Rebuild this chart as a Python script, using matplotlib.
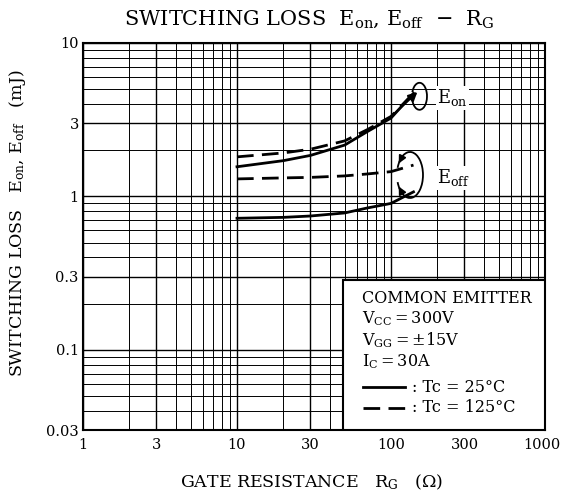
# Switching loss Eon, Eoff vs gate resistance
import matplotlib.pyplot as plt
import matplotlib.patches as mpatches
from matplotlib.ticker import FixedLocator, LogLocator, NullFormatter
from matplotlib.transforms import ScaledTranslation, offset_copy
import numpy as np

plt.rcParams['font.family'] = 'DejaVu Serif'
plt.rcParams['mathtext.fontset'] = 'dejavuserif'

# Data (mJ vs ohm)
rg = [10, 20, 30, 50, 70, 100, 140]
eon_25 = [1.56, 1.71, 1.85, 2.16, 2.64, 3.24, 4.7]
eon_125 = [1.81, 1.92, 2.03, 2.3, 2.72, 3.32, 4.7]
eoff_125 = [1.30, 1.32, 1.33, 1.36, 1.40, 1.45, 1.60]
eoff_25 = [0.72, 0.73, 0.745, 0.78, 0.84, 0.90, 1.07]

x_ticks = [1, 3, 10, 30, 100, 300, 1000]
y_ticks = [0.03, 0.1, 0.3, 1, 3, 10]
y_ticklabels = ['0.03', '0.1', '0.3', '1', '3', '10']

fig = plt.figure(figsize=(5.62, 4.97), dpi=100)
ax = fig.add_axes([0.1477, 0.1348, 0.822, 0.7787])
ax.set_xscale('log')
ax.set_yscale('log')
ax.set_xlim(1, 1000)
ax.set_ylim(0.03, 10)

# graph paper grid
ax.xaxis.set_major_locator(FixedLocator(x_ticks))
ax.yaxis.set_major_locator(FixedLocator(y_ticks))
ax.xaxis.set_minor_locator(LogLocator(base=10, subs=range(1, 10)))
ax.yaxis.set_minor_locator(LogLocator(base=10, subs=range(1, 10)))
ax.xaxis.set_minor_formatter(NullFormatter())
ax.yaxis.set_minor_formatter(NullFormatter())
ax.set_xticklabels([str(v) for v in x_ticks])
ax.set_yticklabels(y_ticklabels)
ax.grid(which='major', color='black', lw=1.0)
ax.grid(which='minor', color='black', lw=0.7)
ax.tick_params(which='both', length=0, labelsize=10.5)
ax.tick_params(axis='x', pad=6)
ax.tick_params(axis='y', pad=3)
for s in ax.spines.values():
    s.set_linewidth(1.5)
# last x label sits a bit inside the edge
lab = ax.get_xticklabels()[-1]
lab.set_transform(offset_copy(lab.get_transform(), fig=fig, x=-3, y=0, units='dots'))

ax.plot(rg, eon_25, color='black', lw=2)
ax.plot(rg, eon_125, color='black', lw=2, dashes=(6, 3))
ax.plot(rg, eoff_125, color='black', lw=2, dashes=(6, 3))
ax.plot(rg, eoff_25, color='black', lw=2)


def loop(cx, cy, dx, dy, w, h, t1, t2, heads):
    # ellipse-shaped pointer drawn in pixel units around a data point
    tr = fig.dpi_scale_trans + ScaledTranslation(cx, cy, ax.transData)
    tr = offset_copy(tr, fig=fig, x=dx, y=dy, units='dots')
    w_in, h_in = w / 100, h / 100
    ax.add_patch(mpatches.Arc((0, 0), w_in, h_in, theta1=t1, theta2=t2,
                              transform=tr, color='black', lw=1.3))
    for t, sgn in heads:
        a = np.radians(t)
        b = np.radians(t - sgn * 25)
        tip = (w_in / 2 * np.cos(a), h_in / 2 * np.sin(a))
        tail = (w_in / 2 * np.cos(b), h_in / 2 * np.sin(b))
        ax.annotate('', xy=tip, xycoords=tr, xytext=tail, textcoords=tr,
                    arrowprops=dict(arrowstyle='-|>', color='black', lw=1.3,
                                    mutation_scale=11, shrinkA=0, shrinkB=0))


# Eon pointer
loop(rg[-1], eon_25[-1], 6, -3, 15, 27, 200, 510, [])
ax.annotate('', xy=(rg[-1] * 1.06, eon_25[-1] * 1.02), xytext=(rg[-2], eon_25[-2] * 1.02),
            arrowprops=dict(arrowstyle='-|>', color='black', lw=1.5,
                            mutation_scale=13, shrinkA=0, shrinkB=0))
ax.text(200, 4.38, r'$\mathregular{E_{on}}$', fontsize=13, ha='left', va='center',
        bbox=dict(facecolor='white', edgecolor='none', pad=1))

# Eoff pointer
mid = np.sqrt(eoff_125[-1] * eoff_25[-1])
loop(rg[-1], mid, -3.5, 3.5, 26, 46, -150, 150, [(150, 1), (-150, -1)])
ax.text(200, 1.32, r'$\mathregular{E_{off}}$', fontsize=13, ha='left', va='center',
        bbox=dict(facecolor='white', edgecolor='none', pad=1))

# conditions box
box = mpatches.Rectangle((0.563, 0.0), 0.437, 0.388, transform=ax.transAxes,
                         facecolor='white', edgecolor='black', lw=1.5, zorder=5)
ax.add_patch(box)
fs = 11.5
tx = 0.604
ax.text(tx, 0.339, 'COMMON EMITTER', transform=ax.transAxes, fontsize=fs, va='center', zorder=6)
ax.text(tx, 0.287, r'$\mathregular{V_{CC}=300V}$', transform=ax.transAxes, fontsize=fs, va='center', zorder=6)
ax.text(tx, 0.232, r'$\mathregular{V_{GG}=\pm15V}$', transform=ax.transAxes, fontsize=fs, va='center', zorder=6)
ax.text(tx, 0.176, r'$\mathregular{I_{C}=30A}$', transform=ax.transAxes, fontsize=fs, va='center', zorder=6)
ax.plot([0.606, 0.697], [0.111, 0.111], transform=ax.transAxes, color='black', lw=2, zorder=6)
ax.plot([0.606, 0.697], [0.057, 0.057], transform=ax.transAxes, color='black', lw=2,
        dashes=(6, 3), zorder=6)
ax.text(0.712, 0.111, ': Tc = 25°C', transform=ax.transAxes, fontsize=fs, va='center', zorder=6)
ax.text(0.712, 0.057, ': Tc = 125°C', transform=ax.transAxes, fontsize=fs, va='center', zorder=6)

fig.text(0.55, 0.962, r'SWITCHING LOSS  $\mathregular{E_{on}}$, $\mathregular{E_{off}}$  $-$  $\mathregular{R_G}$',
         fontsize=15, ha='center', va='center')
fig.text(0.555, 0.03, r'GATE RESISTANCE   $\mathregular{R_G}$   ($\Omega$)',
         fontsize=12.5, ha='center', va='center')
fig.text(0.032, 0.551, r'SWITCHING LOSS   $\mathregular{E_{on}}$, $\mathregular{E_{off}}$   (mJ)',
         fontsize=12.5, ha='center', va='center', rotation=90)

plt.savefig('out.png', dpi=100)
